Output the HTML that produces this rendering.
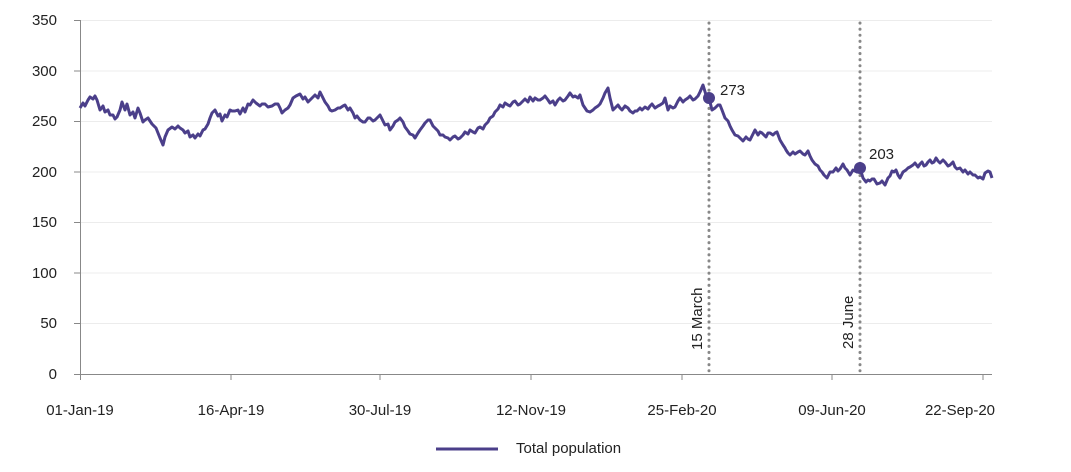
<!DOCTYPE html>
<html><head><meta charset="utf-8"><style>
html,body{margin:0;padding:0;background:#fff;}
svg{display:block;font-family:"Liberation Sans",sans-serif;}
</style></head><body>
<svg width="1071" height="472" viewBox="0 0 1071 472" xmlns="http://www.w3.org/2000/svg">
<g stroke="#ececec" stroke-width="1">
<line x1="80" x2="992" y1="20.5" y2="20.5"/>
<line x1="80" x2="992" y1="71" y2="71"/>
<line x1="80" x2="992" y1="121.5" y2="121.5"/>
<line x1="80" x2="992" y1="172" y2="172"/>
<line x1="80" x2="992" y1="222.5" y2="222.5"/>
<line x1="80" x2="992" y1="273" y2="273"/>
<line x1="80" x2="992" y1="323.5" y2="323.5"/>
</g>
<g stroke="#888" stroke-width="1">
<line x1="80.5" x2="80.5" y1="20" y2="374"/>
<line x1="80" x2="992" y1="374.5" y2="374.5"/>
<line x1="74" x2="80" y1="20.5" y2="20.5"/><line x1="74" x2="80" y1="71" y2="71"/><line x1="74" x2="80" y1="121.5" y2="121.5"/><line x1="74" x2="80" y1="172" y2="172"/><line x1="74" x2="80" y1="222.5" y2="222.5"/><line x1="74" x2="80" y1="273" y2="273"/><line x1="74" x2="80" y1="323.5" y2="323.5"/><line x1="74" x2="80" y1="374.5" y2="374.5"/>
<line x1="80.5" x2="80.5" y1="374" y2="380"/><line x1="231" x2="231" y1="374" y2="380"/><line x1="380" x2="380" y1="374" y2="380"/><line x1="531" x2="531" y1="374" y2="380"/><line x1="682" x2="682" y1="374" y2="380"/><line x1="832" x2="832" y1="374" y2="380"/><line x1="983" x2="983" y1="374" y2="380"/>
</g>
<g font-size="15" fill="#222" text-anchor="end">
<text x="57" y="25">350</text><text x="57" y="76">300</text><text x="57" y="126">250</text><text x="57" y="177">200</text><text x="57" y="227">150</text><text x="57" y="278">100</text><text x="57" y="328">50</text><text x="57" y="379">0</text>
</g>
<g font-size="15" fill="#222" text-anchor="middle">
<text x="80" y="415">01-Jan-19</text><text x="231" y="415">16-Apr-19</text><text x="380" y="415">30-Jul-19</text><text x="531" y="415">12-Nov-19</text><text x="682" y="415">25-Feb-20</text><text x="832" y="415">09-Jun-20</text><text x="960" y="415">22-Sep-20</text>
</g>
<g stroke="#888" stroke-width="3" stroke-dasharray="0.1 6" stroke-linecap="round">
<line x1="709" x2="709" y1="23" y2="374"/>
<line x1="860" x2="860" y1="23" y2="374"/>
</g>
<g font-size="15" fill="#222">
<text transform="translate(702,350) rotate(-90)">15 March</text>
<text transform="translate(853,349) rotate(-90)">28 June</text>
<text x="720" y="95">273</text>
<text x="869" y="159">203</text>
</g>
<polyline fill="none" stroke="#4b3f8a" stroke-width="3" stroke-linejoin="round" points="80,108 83,103 85,106 88,100 90,97 93,99 95,96 97,100 100,110 103,106 105,112 108,110 110,115 113,115 115,119 117,117 120,110 122,102 125,110 127,104 130,115 133,112 135,118 138,108 140,113 143,122 145,120 148,118 152,124 156,128 160,138 163,145 165,137 168,130 172,127 175,129 178,126 180,128 183,130 185,133 188,131 190,137 193,135 195,138 198,134 200,136 203,130 205,129 208,124 210,118 212,113 215,110 218,116 220,114 222,121 225,115 227,117 230,110 232,111 235,111 238,110 240,114 243,108 245,112 248,104 250,105 253,100 256,103 260,106 262,104 265,104 268,107 272,106 275,104 278,104 280,108 282,113 285,110 288,108 290,105 293,98 296,96 300,94 303,99 305,97 308,102 310,100 313,97 315,95 318,98 320,92 323,98 325,102 328,106 330,110 332,111 335,110 338,108 340,108 343,106 345,105 348,110 350,108 353,113 355,118 357,116 360,120 363,122 365,122 368,118 370,118 373,121 375,120 378,117 380,115 383,121 385,125 388,124 390,130 393,126 395,122 398,120 400,118 403,122 405,127 408,131 410,134 413,135 415,138 418,133 420,130 423,126 425,123 428,120 430,120 433,126 435,128 438,131 440,135 443,135 445,137 448,138 450,140 453,137 455,136 458,139 460,138 463,135 465,132 468,134 470,130 473,132 475,133 478,128 480,127 483,129 485,125 488,122 490,118 493,116 495,112 498,109 500,105 503,107 505,103 508,105 510,106 513,102 515,101 518,105 520,104 523,101 525,99 528,102 530,97 533,101 535,98 538,100 540,100 543,98 545,96 548,100 550,103 553,101 555,105 558,100 560,98 563,101 565,100 568,96 570,93 573,97 575,96 578,98 580,95 583,105 585,108 587,111 590,112 593,110 595,108 598,106 600,104 603,98 605,93 608,88 610,98 613,110 616,107 618,105 620,108 622,110 625,106 628,108 630,111 633,113 635,111 637,111 640,108 642,110 645,107 648,109 650,106 652,104 655,108 658,106 660,105 663,103 665,98 668,110 670,106 673,108 675,107 678,101 680,98 683,102 685,100 688,98 690,96 693,100 695,99 698,96 700,92 703,85 706,95 709,98 712,110 715,108 718,105 720,105 722,110 725,118 728,121 730,126 732,130 735,135 738,136 740,138 743,141 746,137 748,139 750,140 753,134 755,130 758,135 760,132 762,133 765,136 766,137 768,133 770,133 773,135 775,133 777,132 780,140 783,145 785,148 786,150 788,153 790,155 793,152 795,154 798,152 800,151 803,154 805,155 808,151 810,156 812,160 815,164 818,166 820,170 822,172 824,175 827,178 830,172 833,172 836,168 838,171 840,169 843,164 845,168 847,170 850,175 853,170 855,171 857,172 860,168 863,178 866,182 868,180 870,181 872,179 874,179 877,184 880,183 882,181 885,185 888,178 890,176 892,171 894,172 896,170 898,175 900,178 903,172 906,170 908,168 910,167 913,165 915,163 918,167 920,164 922,162 924,166 926,165 928,162 930,160 932,163 934,162 936,158 938,161 940,163 943,160 945,162 948,166 950,165 953,162 955,167 957,169 960,168 963,172 965,170 968,174 970,172 973,175 975,175 978,178 980,177 983,179 985,173 988,171 990,172 992,178"/>
<circle cx="709" cy="98" r="6" fill="#4b3f8a"/>
<circle cx="860" cy="168" r="6" fill="#4b3f8a"/>
<line x1="436" x2="498" y1="449" y2="449" stroke="#4b3f8a" stroke-width="3"/>
<text x="516" y="453" font-size="15" fill="#222">Total population</text>
</svg>
</body></html>
